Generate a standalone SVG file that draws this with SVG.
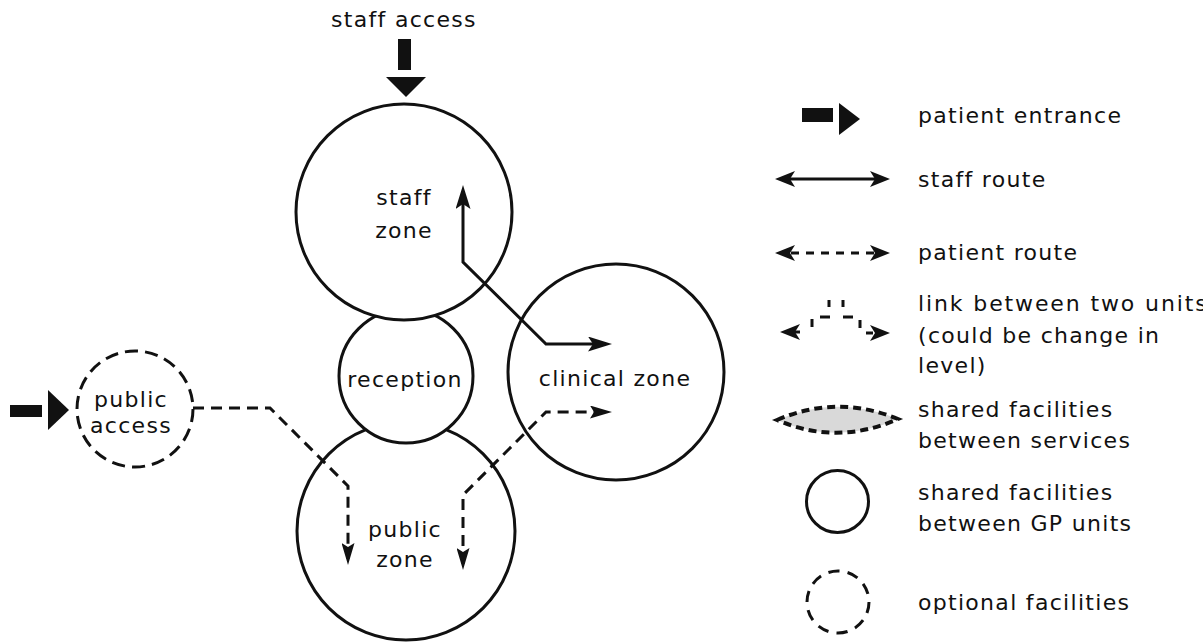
<svg xmlns="http://www.w3.org/2000/svg" width="1203" height="643" viewBox="0 0 1203 643">
<style>
text{font-family:"DejaVu Sans","Liberation Sans",sans-serif;font-size:22px;letter-spacing:1.3px;fill:#111}
.c{text-anchor:middle}
.zone{fill:#fff;stroke:#111;stroke-width:3}
.opt{fill:#fff;stroke:#111;stroke-width:3;stroke-dasharray:13 7}
.solid{fill:none;stroke:#111;stroke-width:3}
.dash{fill:none;stroke:#111;stroke-width:3;stroke-dasharray:11 7}
.blk{fill:#111}
</style>
<defs>
<marker id="sArrow" markerUnits="userSpaceOnUse" markerWidth="24" markerHeight="15" refX="18" refY="7.5" orient="auto-start-reverse" viewBox="0 0 24 15"><path d="M0,0 L24,7.5 L0,15 L5,7.5 z" fill="#111"/></marker>
<marker id="pArrow" markerUnits="userSpaceOnUse" markerWidth="22" markerHeight="13" refX="16" refY="6.5" orient="auto-start-reverse" viewBox="0 0 22 13"><path d="M0,0 L22,6.5 L0,13 L4,6.5 z" fill="#111"/></marker>
<marker id="lArrow" markerUnits="userSpaceOnUse" markerWidth="20" markerHeight="16" refX="14" refY="8" orient="auto-start-reverse" viewBox="0 0 20 16"><path d="M0,0 L20,8 L0,16 L5,8 z" fill="#111"/></marker>
</defs>
<rect width="1203" height="643" fill="#fff"/>

<g id="staff-access">
<text class="c" x="404" y="27">staff access</text>
<rect class="blk" x="398" y="39" width="13" height="31"/>
<polygon class="blk" points="386,77 426,77 406,97"/>
</g>

<g id="public-zone">
<circle class="zone" cx="406" cy="531" r="109"/>
<text class="c" x="405" y="537">public</text>
<text class="c" x="405" y="567">zone</text>
</g>

<g id="reception">
<circle class="zone" cx="406" cy="376" r="67"/>
<text class="c" x="405" y="387">reception</text>
</g>

<g id="staff-zone">
<circle class="zone" cx="404" cy="212" r="108"/>
<text class="c" x="404" y="205">staff</text>
<text class="c" x="404" y="238">zone</text>
</g>

<g id="clinical-zone">
<circle class="zone" cx="616" cy="372" r="108"/>
<text class="c" x="615" y="386">clinical zone</text>
</g>

<g id="public-access">
<circle class="opt" cx="135" cy="409" r="58" pathLength="360"/>
<text class="c" x="131" y="407">public</text>
<text class="c" x="131" y="433">access</text>
<rect class="blk" x="10" y="405" width="32" height="12"/>
<polygon class="blk" points="48,390 69,410 48,430"/>
</g>

<g id="connectors">
<path class="solid" d="M463,191 V262 L546,344 H606" marker-start="url(#sArrow)" marker-end="url(#sArrow)"/>
<path class="dash" d="M193,408 H270 L348,486 V559" marker-end="url(#pArrow)"/>
<path class="dash" d="M463,564 V495 L546,412 H606" marker-start="url(#pArrow)" marker-end="url(#pArrow)"/>
</g>

<g id="legend">
<g id="leg-entrance">
<rect class="blk" x="802" y="108" width="31" height="14"/>
<polygon class="blk" points="839,103 860,119 839,135"/>
<text x="918" y="123">patient entrance</text>
</g>
<g id="leg-staff">
<path class="solid" d="M781,179 H884" marker-start="url(#lArrow)" marker-end="url(#lArrow)"/>
<text x="918" y="187">staff route</text>
</g>
<g id="leg-patient">
<path class="solid" d="M781,253 H884" style="stroke-dasharray:8 7;stroke-dashoffset:-10" marker-start="url(#lArrow)" marker-end="url(#lArrow)"/>
<text x="918" y="260">patient route</text>
</g>
<g id="leg-link">
<path class="solid" d="M786,332 H800" marker-start="url(#lArrow)"/>
<path class="solid" d="M876,333 H884" marker-end="url(#lArrow)"/>
<path class="solid" d="M812,319 V327 M820,317 H830 M829,300 V307 M843,300 V307 M843,317 H853 M860,320 V328 M866,333 H873"/>
<text x="918" y="311" textLength="290" lengthAdjust="spacing">link between two units</text>
<text x="918" y="343">(could be change in</text>
<text x="918" y="373">level)</text>
</g>
<g id="leg-shared-services">
<path d="M777,420 Q837,394 898,419 Q837,446 777,420 z" fill="#d9d9d9" stroke="#111" stroke-width="4" stroke-dasharray="8 5"/>
<text x="918" y="417">shared facilities</text>
<text x="918" y="448">between services</text>
</g>
<g id="leg-shared-gp">
<circle class="solid" cx="837.5" cy="501.5" r="31"/>
<text x="918" y="500">shared facilities</text>
<text x="918" y="531">between GP units</text>
</g>
<g id="leg-optional">
<circle class="solid" cx="838" cy="602" r="31" pathLength="190" style="stroke-dasharray:11 8"/>
<text x="918" y="610">optional facilities</text>
</g>
</g>
</svg>
